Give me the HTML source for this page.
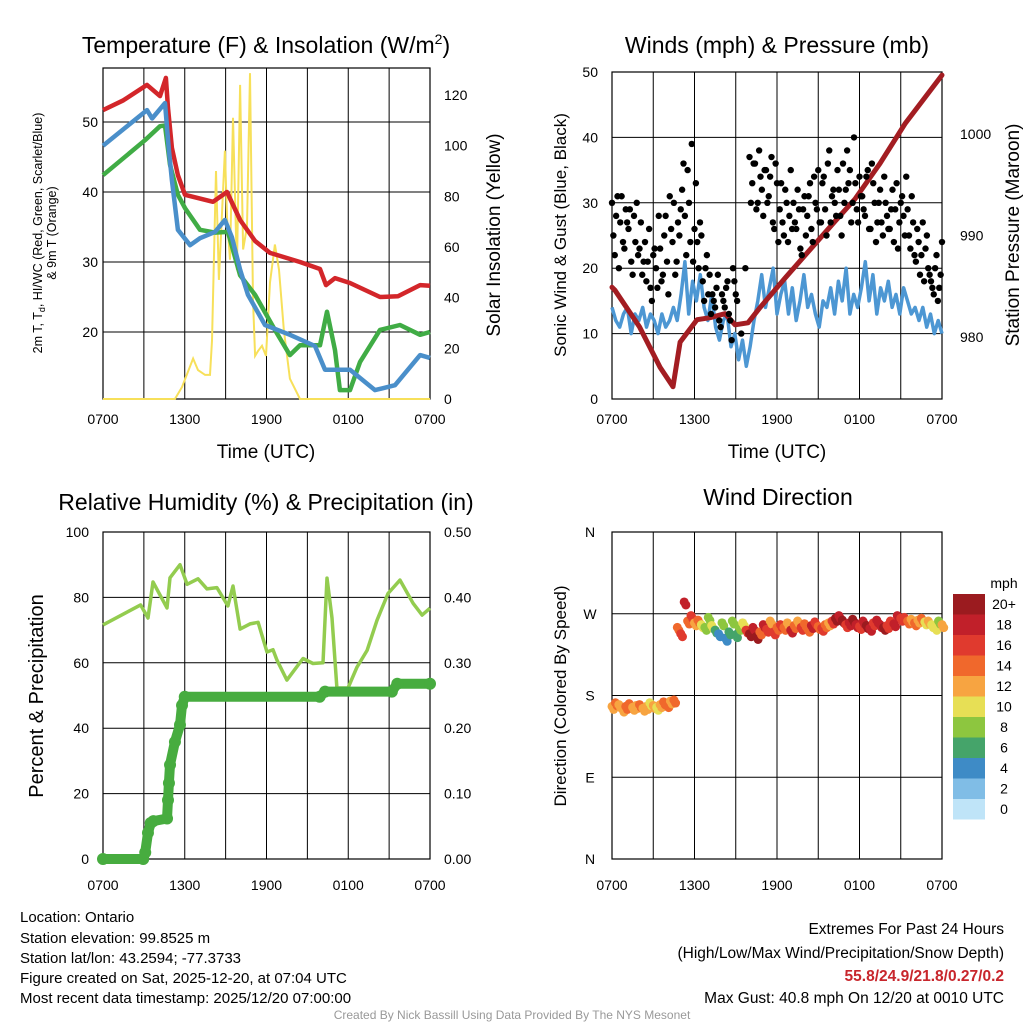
<!DOCTYPE html>
<html><head><meta charset="utf-8">
<style>
html,body{margin:0;padding:0;background:#fff;}
svg{display:block;font-family:"Liberation Sans",sans-serif;}
</style></head>
<body>
<svg id="chart" width="1024" height="1024" viewBox="0 0 1024 1024" xmlns="http://www.w3.org/2000/svg">
<rect width="1024" height="1024" fill="#fff"/>
<g id="g"></g>
<text x="266" y="53" font-size="23" text-anchor="middle">Temperature (F) &amp; Insolation (W/m<tspan font-size="14" dy="-9">2</tspan><tspan dy="9">)</tspan></text>
<text x="777" y="53" font-size="23" text-anchor="middle">Winds (mph) &amp; Pressure (mb)</text>
<text x="266" y="510" font-size="23" text-anchor="middle">Relative Humidity (%) &amp; Precipitation (in)</text>
<text x="778" y="505" font-size="23" text-anchor="middle">Wind Direction</text>
<text x="266" y="458" font-size="19" text-anchor="middle">Time (UTC)</text>
<text x="777" y="458" font-size="19" text-anchor="middle">Time (UTC)</text>
<text transform="translate(42,233) rotate(-90)" font-size="12.5" text-anchor="middle">2m T, T<tspan font-size="9" dy="3">d</tspan><tspan dy="-3">, HI/WC (Red, Green, Scarlet/Blue)</tspan></text>
<text transform="translate(56,233) rotate(-90)" font-size="12.5" text-anchor="middle">&amp; 9m T (Orange)</text>
<text transform="translate(500,235) rotate(-90)" font-size="19" text-anchor="middle">Solar Insolation (Yellow)</text>
<text transform="translate(566,235) rotate(-90)" font-size="17" text-anchor="middle">Sonic Wind &amp; Gust (Blue, Black)</text>
<text transform="translate(1019,235) rotate(-90)" font-size="19" text-anchor="middle">Station Pressure (Maroon)</text>
<text transform="translate(43,696) rotate(-90)" font-size="20" text-anchor="middle">Percent &amp; Precipitation</text>
<text transform="translate(566,696) rotate(-90)" font-size="17" text-anchor="middle">Direction (Colored By Speed)</text>
<text x="1004" y="588" font-size="14" text-anchor="middle">mph</text>
<g font-size="15">
<text x="20" y="922">Location: Ontario</text>
<text x="20" y="943">Station elevation: 99.8525 m</text>
<text x="20" y="963">Station lat/lon: 43.2594; -77.3733</text>
<text x="20" y="983">Figure created on Sat, 2025-12-20, at 07:04 UTC</text>
<text x="20" y="1003">Most recent data timestamp: 2025/12/20 07:00:00</text>
</g>
<g font-size="15.5" text-anchor="end">
<text x="1004" y="934">Extremes For Past 24 Hours</text>
<text x="1004" y="958">(High/Low/Max Wind/Precipitation/Snow Depth)</text>
<text x="1004" y="981" fill="#c8262c" font-weight="bold">55.8/24.9/21.8/0.27/0.2</text>
<text x="1004" y="1003">Max Gust: 40.8 mph On 12/20 at 0010 UTC</text>
</g>
<text x="512" y="1019" font-size="12" fill="#999" text-anchor="middle">Created By Nick Bassill Using Data Provided By The NYS Mesonet</text>
</svg>
<script>
// ---- data ----
const timeLabels = ["0700","1300","1900","0100","0700"];
const redT = [0,1.5,3.23,4.18,4.62,4.77,5.06,5.5,6.02,8.07,9.1,10.06,11.16,12.26,14.46,15.93,16.37,17.03,18.13,20.33,21.65,23.27,24];
const redV = [51.7,53.1,55.3,53.7,56.3,52,46.3,42.4,39.6,38.6,40,36,33,31.3,30,29,26.7,27.7,27,25,25.1,26.7,26.6];
const blueT = [0,3.23,3.6,4.55,4.84,5.06,5.5,6.39,7.12,8.22,8.95,9.47,10.06,10.64,11.89,13.72,15.56,16.29,18.13,19.96,21.43,23.27,24];
const blueV = [46.6,51.7,50.5,52.7,46,41.7,34.6,32.4,33.4,34.3,36,33.5,28.9,25.3,21,19.6,18,14.6,14.6,11.7,12.4,16.7,16.3];
const greenT = [0,3.08,4.18,4.55,4.92,5.5,6.02,7.12,8.22,9.17,10.06,11.16,12.62,13.72,14.46,15.93,16.44,17.03,17.39,18.13,18.86,20.33,21.8,23.27,24];
const greenV = [42.4,47.4,49.4,49.5,43.9,39.6,37.7,34.6,34.2,34.3,28.1,25.3,20.3,16.7,18.1,18.1,22.9,17.4,11.7,11.7,15.7,20.3,21,19.6,20];
const solarT = [0,5.28,5.8,6.61,6.97,7.49,7.85,8.0,8.29,8.51,8.95,9.1,9.32,9.54,9.83,10.06,10.28,10.57,10.79,11.01,11.16,11.38,11.67,11.96,12.26,12.62,12.92,13.28,13.72,14.46,24];
const solarV = [0,0,4.7,16,11.4,9.5,9.5,23,90,47,98,72,55,111,51,124,59,68,128.6,39,17,19,21,17,46,61,51,27,8,0,0];
const windV = [14,12,11,13,14,10,13,12,14,11,13,12,10,13,11,12,14, 12,16,21,13,18,15,19, 14,12,16,11,9,12,13, 8,10,6,9,5,8,12, 15,19,14,17,20,13,16, 18,13,17,12,15,19,14, 16,13,11,15,14,17,13, 18,15,20,13,16,14,17, 21,15,19,13,17,15,18, 14,16,13,17,15,13,14, 12,14,11,13,10,12,10];
const gustV = [30,22,31,27,24,29, 26,21,28,30,23, 19,24,21,17,22, 20,28,18,25,21, 31,24,19,27,29, 36,22,30,39,26, 24,27,18,20,16, 13,15,17,12,16, 14,18,12,20,16, null,10,null,null,37, 33,36,30,34,28, 35,31,37,26,33, 29,27,32,24,35, 30,26,29,22,31, 28,33,24,30,35, 27,34,25,38,31, 30,35,28,36,32, 33,27,40,29,34, 31,28,35,26,33, 24,30,27,34,28, 26,32,29,23,30, 28,34,25,31,22, 26,19,27,23,20, 18,16,22,17,24];
const gustV2 = [25,28,20,31,23,27, 29,19,24,22,27, 21,18,26,15,23, 17,23,19,28,16, 26,30,21,25,32, 28,35,24,21,33, 20,25,15,22,19, 16,14,19,11,15, 17,13,9,18,15, null,null,20,null,30, 36,29,38,32,35, 30,34,27,36,24, 33,25,30,28,26, 27,32,23,29,25, 31,26,34,29,27, 33,29,36,27,32, 28,32,25,30,38, 35,30,33,27,31, 29,34,26,36,30, 27,32,25,30,26, 29,24,33,27,31, 25,29,23,27,21, 24,22,18,25,19, 17,20,15,19];
const presT = [0,0.22,2,3.5,4.44,4.95,6.18,7.13,8.22,8.95,9.89,10.76,12.58,14.4,16.22,17.67,19.49,21.31,24];
const presV = [984.9,984.6,981,977,975.1,979.5,981.7,981.9,982.3,981.2,981.4,982.9,985.8,988.6,991.4,993.6,997.1,1001.0,1005.8];
const rhT = [0,2.76,3.3,3.67,4.7,4.92,5.65,6.17,6.97,7.63,8.36,9.17,9.54,10.06,10.79,11.38,12.04,12.48,12.77,13.5,14.68,15.41,16.15,16.44,16.81,17.17,17.98,18.64,19.38,20.11,20.92,21.8,22.76,23.42,24];
const rhV = [71.6,77.7,73.7,84.7,76.8,86,90,84,85.7,82.6,83,77.4,83.5,70.3,71.9,72.4,63.3,64,60.8,54.7,61.3,59.8,60,85.9,73.7,52.3,52.3,58.7,63.8,73,81.2,85.3,78.2,74.6,76.7];
const pT = [0,2.95,3.1,3.3,3.5,3.7,4.7,4.77,4.84,4.92,5.28,5.65,5.8,6.0,15.9,16.3,21.2,21.6,24];
const pV = [0,0,0.01,0.04,0.055,0.058,0.062,0.09,0.116,0.144,0.179,0.205,0.235,0.248,0.248,0.256,0.256,0.268,0.268];
const dirV = [168,172,170,165,168,171,167,169,170,166,168,172,169,167,170,173,170,174,175, 255,248,283,262,268,260, 263,258,255,266,257, 252,248,260,243,250,262,247,255,260, 252,248,255,245,250,258,253,262,250,255, 258,255,260,252,257,262,255,259,253,257,261,256,254,258,260,262, 265,268,263,258,260,264,258,256,262,257,254,260,263,258,255,257,262,259,268, 265,266,262,264,260,263,265,261,262,258,255,262,258];
const dirS = [13,14,12,13,14,15,13,12,14,13,12,11,12,10,13,15,14,12,15, 15,17,18,14,16,13, 14,11,9,8,10, 7,5,8,4,6,8,7,9,10, 16,20,19,20,14,18,17,13,16,14, 16,14,12,18,15,13,17,14,15,18,16,14,17,15,13,16, 20,19,20,17,18,20,19,16,18,20,19,17,18,19,20,16,17,18,18, 17,16,14,13,15,12,14,11,13,10,11,9,12];
const cbLabels = ["20+","18","16","14","12","10","8","6","4","2","0"];
const cbColors = ["#9b1b1f","#c1202a","#e03a2e","#f0682c","#f7a441","#e7df55","#8dc63f","#45a46a","#3e8bc6","#80bde6","#bfe4f8"];

const NS="http://www.w3.org/2000/svg";
const G=document.getElementById('g');
function el(tag,at,parent){const e=document.createElementNS(NS,tag);for(const k in at)e.setAttribute(k,at[k]);(parent||G).appendChild(e);return e;}
function lin(d0,d1,r0,r1){return v=>r0+(v-d0)*(r1-r0)/(d1-d0);}
function pathFrom(xs,ys,fx,fy){let d="",pen=false;for(let i=0;i<xs.length;i++){if(ys[i]==null){pen=false;continue;}d+=(pen?"L":"M")+fx(xs[i]).toFixed(1)+","+fy(ys[i]).toFixed(1);pen=true;}return d;}
function speedColor(s){const idx=Math.min(10,Math.floor(s/2));return cbColors[10-idx];}

function frame(x0,y0,x1,y1,name){
  for(let h=3;h<24;h+=3){const x=x0+(x1-x0)*h/24;const l=el('line',{x1:x,y1:y0,x2:x,y2:y1,stroke:'#000','stroke-width':1});
    
    }
  const r=el('rect',{x:x0,y:y0,width:x1-x0,height:y1-y0,fill:'none',stroke:'#000','stroke-width':1.2});
  
  
}
function hgrid(x0,x1,y,name){const l=el('line',{x1:x0,y1:y,x2:x1,y2:y,stroke:'#000','stroke-width':1});
  
  }
function label(x,y,txt,anchor,name,size){const t=el('text',{x:x,y:y,'font-size':size||14,'text-anchor':anchor});t.textContent=txt;
  
  
  return t;}
function xlabels(x0,x1,y,name){timeLabels.forEach((s,i)=>{label(x0+(x1-x0)*i/4,y,s,'middle',name);});}

// ---- Panel 1: temperature ----
{const X0=103,X1=430,Y0=68,Y1=399;
 const fx=lin(0,24,X0,X1), fy=lin(20,50,332,122), fs=lin(0,120,399,95);
 [20,30,40,50].forEach(v=>{hgrid(X0,X1,fy(v),'temp');label(X0-5,fy(v)+5,String(v),'end','temp-y-tick');});
 [0,20,40,60,80,100,120].forEach(v=>label(X1+14,fs(v)+5,String(v),'start','solar-y-tick'));
 frame(X0,Y0,X1,Y1,'temp');
 xlabels(X0,X1,424,'temp-x-tick');
 let p=el('path',{d:pathFrom(solarT,solarV,fx,fs),fill:'none',stroke:'#f7e05a','stroke-width':2});
 
 
 p=el('path',{d:pathFrom(redT,redV,fx,fy),fill:'none',stroke:'#d3262a','stroke-width':4.5,'stroke-linejoin':'round'});
 
 
 p=el('path',{d:pathFrom(greenT,greenV,fx,fy),fill:'none',stroke:'#40ac45','stroke-width':4.5,'stroke-linejoin':'round'});
 
 
 p=el('path',{d:pathFrom(blueT,blueV,fx,fy),fill:'none',stroke:'#4a8fca','stroke-width':4.5,'stroke-linejoin':'round'});
 
 
}
// ---- Panel 2: winds ----
{const X0=612,X1=942,Y0=72,Y1=399;
 const fx=lin(0,24,X0,X1), fy=lin(0,50,399,72), fp=lin(980,1000,337,134);
 [10,20,30,40].forEach(v=>hgrid(X0,X1,fy(v),'wind'));
 [0,10,20,30,40,50].forEach(v=>label(X0-14,fy(v)+5,String(v),'end','wind-y-tick'));
 [980,990,1000].forEach(v=>label(X1+18,fp(v)+5,String(v),'start','pressure-y-tick'));
 frame(X0,Y0,X1,Y1,'wind');
 xlabels(X0,X1,424,'wind-x-tick');
 const wt=windV.map((v,i)=>i*24/(windV.length-1));
 let p=el('path',{d:pathFrom(wt,windV,fx,fy),fill:'none',stroke:'#4d97d3','stroke-width':3.5,'stroke-linejoin':'round'});
 
 
 p=el('path',{d:pathFrom(presT,presV,fx,fp),fill:'none',stroke:'#a31d22','stroke-width':5,'stroke-linejoin':'round','stroke-linecap':'round'});
 
 
 gustV.forEach((v,i)=>{if(v==null)return;const t=i*24/(gustV.length-1);
   const c=el('circle',{cx:fx(t),cy:fy(v),r:3.2,fill:'#000'});
   
   });
 gustV2.forEach((v,i)=>{if(v==null)return;const t=0.1+i*23.8/(gustV2.length-1);
   const c=el('circle',{cx:fx(t),cy:fy(v),r:3.2,fill:'#000'});
   
   });
}
// ---- Panel 3: RH & precip ----
{const X0=103,X1=430,Y0=532,Y1=859;
 const fx=lin(0,24,X0,X1), fy=lin(0,100,859,532), fpr=lin(0,0.5,859,532);
 [20,40,60,80].forEach(v=>hgrid(X0,X1,fy(v),'rh'));
 [0,20,40,60,80,100].forEach(v=>label(X0-14,fy(v)+5,String(v),'end','rh-y-tick'));
 [0,0.1,0.2,0.3,0.4,0.5].forEach(v=>label(X1+14,fpr(v)+5,v.toFixed(2),'start','precip-y-tick'));
 frame(X0,Y0,X1,Y1,'rh');
 xlabels(X0,X1,890,'rh-x-tick');
 let p=el('path',{d:pathFrom(rhT,rhV,fx,fy),fill:'none',stroke:'#93cc4f','stroke-width':3.5,'stroke-linejoin':'round'});
 
 
 p=el('path',{d:pathFrom(pT,pV,fx,fpr),fill:'none',stroke:'#47ac3f','stroke-width':10,'stroke-linejoin':'round','stroke-linecap':'round'});
 
 
 pT.forEach((t,i)=>{const c=el('circle',{cx:fx(t),cy:fpr(pV[i]),r:6,fill:'#47ac3f'});
   
   });
}
// ---- Panel 4: wind direction ----
{const X0=612,X1=942,Y0=532,Y1=859;
 const fx=lin(0,24,X0,X1), fy=lin(0,360,859,532);
 [90,180,270].forEach(v=>hgrid(X0,X1,fy(v),'dir'));
 ["N","E","S","W","N"].forEach((s,i)=>label(590,fy(i*90)+5,s,'middle','direction-y-tick'));
 frame(X0,Y0,X1,Y1,'dir');
 xlabels(X0,X1,890,'dir-x-tick');
 dirV.forEach((v,i)=>{if(v==null)return;const t=i*24/(dirV.length-1);
   const c=el('circle',{cx:fx(t),cy:fy(v),r:4.5,fill:speedColor(dirS[i])});
   
   
   const c2=el('circle',{cx:fx(t)+1.7,cy:fy(v)+3,r:4.5,fill:speedColor(dirS[i])});
   
   });
 cbColors.forEach((col,i)=>{const r=el('rect',{x:953,y:594+i*20.5,width:32,height:20.5,fill:col});
   
   
   label(1004,594+i*20.5+15,cbLabels[i],'middle','colorbar-label');});
}
</script>
</body></html>
